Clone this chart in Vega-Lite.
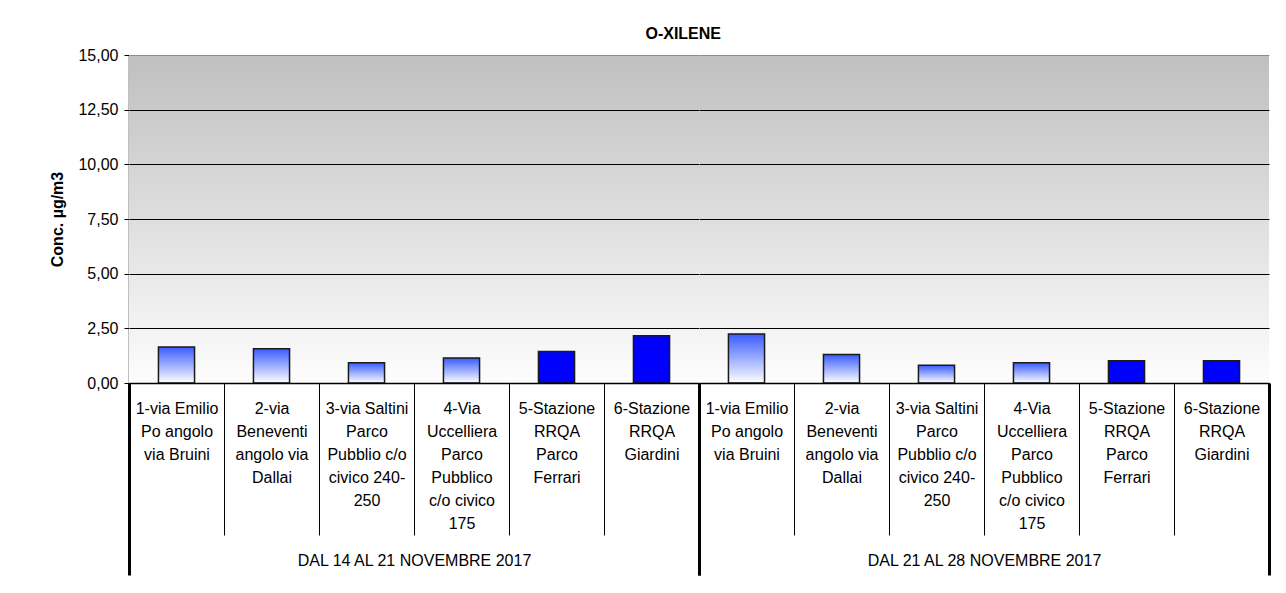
{
  "$schema": "https://vega.github.io/schema/vega-lite/v6.json",
  "background": "white",
  "padding": {"left": 49, "top": 26, "right": 5, "bottom": 0},
  "title": {"text": "O-XILENE", "font": "Liberation Sans", "fontSize": 16, "fontWeight": "bold", "color": "#000000", "anchor": "middle", "offset": 5, "dx": 23},
  "config": {
    "locale": {"number": {"decimal": ",", "thousands": ".", "grouping": [3], "currency": ["€", ""]}},
    "view": {"stroke": null},
    "font": "Liberation Sans",
    "axis": {"zindex": 1, "labelFont": "Liberation Sans", "titleFont": "Liberation Sans", "labelColor": "#000000", "titleColor": "#000000"}
  },
  "datasets": {
    "misure": [
      {"settimana": "DAL 14 AL 21 NOVEMBRE 2017", "sito": "1-via Emilio Po angolo via Bruini", "rete": "passivo", "valore": 1.65},
      {"settimana": "DAL 14 AL 21 NOVEMBRE 2017", "sito": "2-via Beneventi angolo via Dallai", "rete": "passivo", "valore": 1.57},
      {"settimana": "DAL 14 AL 21 NOVEMBRE 2017", "sito": "3-via Saltini Parco Pubblio c/o civico 240-250", "rete": "passivo", "valore": 0.93},
      {"settimana": "DAL 14 AL 21 NOVEMBRE 2017", "sito": "4-Via Uccelliera Parco Pubblico c/o civico 175", "rete": "passivo", "valore": 1.14},
      {"settimana": "DAL 14 AL 21 NOVEMBRE 2017", "sito": "5-Stazione RRQA Parco Ferrari", "rete": "RRQA", "valore": 1.44},
      {"settimana": "DAL 14 AL 21 NOVEMBRE 2017", "sito": "6-Stazione RRQA Giardini", "rete": "RRQA", "valore": 2.16},
      {"settimana": "DAL 21 AL 28 NOVEMBRE 2017", "sito": "1-via Emilio Po angolo via Bruini", "rete": "passivo", "valore": 2.24},
      {"settimana": "DAL 21 AL 28 NOVEMBRE 2017", "sito": "2-via Beneventi angolo via Dallai", "rete": "passivo", "valore": 1.30},
      {"settimana": "DAL 21 AL 28 NOVEMBRE 2017", "sito": "3-via Saltini Parco Pubblio c/o civico 240-250", "rete": "passivo", "valore": 0.81},
      {"settimana": "DAL 21 AL 28 NOVEMBRE 2017", "sito": "4-Via Uccelliera Parco Pubblico c/o civico 175", "rete": "passivo", "valore": 0.93},
      {"settimana": "DAL 21 AL 28 NOVEMBRE 2017", "sito": "5-Stazione RRQA Parco Ferrari", "rete": "RRQA", "valore": 1.02},
      {"settimana": "DAL 21 AL 28 NOVEMBRE 2017", "sito": "6-Stazione RRQA Giardini", "rete": "RRQA", "valore": 1.02}
    ]
  },
  "data": {"name": "misure"},
  "facet": {"column": {"field": "settimana", "type": "nominal", "header": {"labels": false, "title": null}}},
  "spacing": 0,
  "bounds": "flush",
  "resolve": {"scale": {"x": "independent"}},
  "spec": {
    "width": 570,
    "height": 328,
    "layer": [
      {
        "mark": {"type": "rect", "fill": {"gradient": "linear", "x1": 0, "y1": 0, "x2": 0, "y2": 1, "stops": [{"offset": 0, "color": "#bfbfbf"}, {"offset": 1, "color": "#fdfdfd"}]}},
        "encoding": {
          "x": {"field": "settimana", "type": "nominal", "scale": {"paddingInner": 0, "paddingOuter": 0},
            "axis": {"title": null, "orient": "bottom", "domain": false, "grid": false, "ticks": true, "tickBand": "extent", "tickSize": 192, "tickWidth": 3, "tickColor": "#000000", "labelAngle": 0, "labelFontSize": 16, "labelPadding": -23, "labelBaseline": "top", "labelLimit": 0, "zindex": 2}}
        }
      },
      {
        "mark": {"type": "bar", "width": {"band": 0.38}, "stroke": "#1a1a1a", "strokeWidth": 1.5},
        "encoding": {
          "x": {"field": "sito", "type": "nominal", "sort": "ascending", "scale": {"paddingInner": 0, "paddingOuter": 0},
            "axis": {"title": null, "orient": "bottom", "domain": true, "domainColor": "#000000", "domainWidth": 1.5, "grid": false, "tickBand": "extent", "tickSize": 152, "tickWidth": 1, "tickColor": "#000000", "labelAngle": 0, "labelFontSize": 16, "labelLineHeight": 23, "labelPadding": -135, "labelBaseline": "top", "labelLimit": 0, "zindex": 2,
              "labelExpr": "({'1-via Emilio Po angolo via Bruini': ['1-via Emilio','Po angolo','via Bruini'], '2-via Beneventi angolo via Dallai': ['2-via','Beneventi','angolo via','Dallai'], '3-via Saltini Parco Pubblio c/o civico 240-250': ['3-via Saltini','Parco','Pubblio c/o','civico 240-','250'], '4-Via Uccelliera Parco Pubblico c/o civico 175': ['4-Via','Uccelliera','Parco','Pubblico','c/o civico','175'], '5-Stazione RRQA Parco Ferrari': ['5-Stazione','RRQA','Parco','Ferrari'], '6-Stazione RRQA Giardini': ['6-Stazione','RRQA','Giardini']})[datum.value]"}},
          "y": {"field": "valore", "type": "quantitative", "scale": {"domain": [0, 15], "nice": false},
            "axis": {"title": "Conc. µg/m3", "values": [0, 2.5, 5, 7.5, 10, 12.5, 15], "format": ".2f", "grid": true, "zindex": 1, "gridColor": {"condition": {"test": "datum.value === 15", "value": "#8c8c8c"}, "value": "#000000"}, "gridWidth": 1, "domainColor": "#000000", "domainWidth": 1.5, "tickColor": "#000000", "tickSize": 5, "labelFontSize": 16, "labelPadding": 6, "titleFontSize": 16, "titleFontWeight": "bold", "titlePadding": 12}},
          "fill": {"condition": {"test": "datum.rete === 'RRQA'", "value": "#0000ff"},
            "value": {"gradient": "linear", "x1": 0, "y1": 0, "x2": 0, "y2": 1, "stops": [{"offset": 0, "color": "#3a5cff"}, {"offset": 1, "color": "#ffffff"}]}}
        }
      }
    ],
    "resolve": {"scale": {"x": "independent"}}
  }
}
